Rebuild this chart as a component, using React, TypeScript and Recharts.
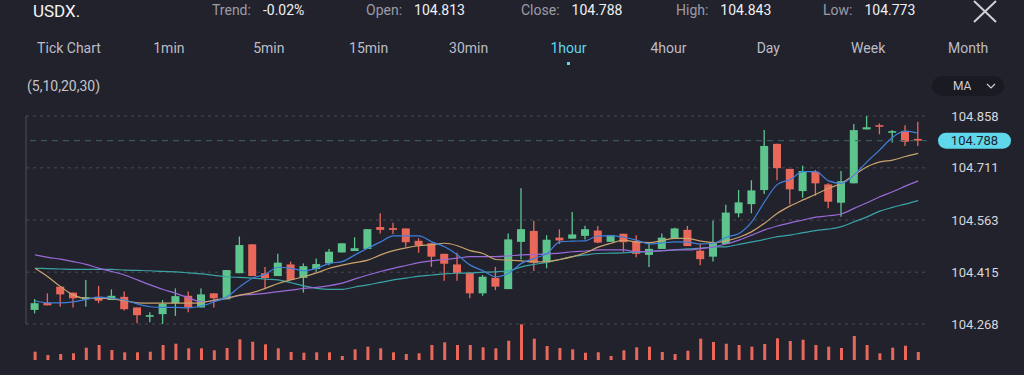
import React from 'react';
import { ComposedChart, Bar, Line, XAxis, YAxis, CartesianGrid, ReferenceLine } from 'recharts';

// hourly candles
const opens = [
  104.308, 104.328, 104.374, 104.357, 104.338, 104.345, 104.336, 104.345, 104.315, 104.291,
  104.296, 104.327, 104.348, 104.315, 104.355, 104.338, 104.412, 104.494, 104.412, 104.404,
  104.437, 104.399, 104.424, 104.440, 104.471, 104.475, 104.481, 104.543, 104.540, 104.539,
  104.504, 104.497, 104.467, 104.437, 104.413, 104.355, 104.399, 104.367, 104.501, 104.532,
  104.443, 104.513, 104.510, 104.518, 104.533, 104.501, 104.524, 104.504, 104.464, 104.481,
  104.509, 104.535, 104.476, 104.459, 104.495, 104.582, 104.608, 104.648, 104.779, 104.708,
  104.645, 104.700, 104.664, 104.612, 104.667, 104.820, 104.832, 104.812, 104.816, 104.793,
];
const highs = [
  104.339, 104.355, 104.374, 104.357, 104.393, 104.376, 104.366, 104.360, 104.315, 104.301,
  104.336, 104.369, 104.360, 104.369, 104.355, 104.421, 104.516, 104.494, 104.430, 104.467,
  104.445, 104.440, 104.454, 104.481, 104.497, 104.514, 104.537, 104.582, 104.555, 104.539,
  104.511, 104.497, 104.467, 104.470, 104.413, 104.407, 104.430, 104.525, 104.653, 104.561,
  104.520, 104.537, 104.586, 104.547, 104.546, 104.520, 104.524, 104.520, 104.497, 104.525,
  104.541, 104.546, 104.495, 104.561, 104.606, 104.648, 104.676, 104.818, 104.779, 104.708,
  104.717, 104.705, 104.667, 104.702, 104.835, 104.858, 104.837, 104.818, 104.832, 104.842,
];
const lows = [
  104.298, 104.321, 104.317, 104.315, 104.317, 104.327, 104.336, 104.306, 104.270, 104.273,
  104.263, 104.291, 104.301, 104.315, 104.315, 104.338, 104.412, 104.404, 104.369, 104.404,
  104.393, 104.357, 104.416, 104.435, 104.471, 104.475, 104.481, 104.525, 104.523, 104.487,
  104.470, 104.430, 104.391, 104.391, 104.341, 104.348, 104.364, 104.367, 104.451, 104.418,
  104.426, 104.495, 104.510, 104.508, 104.497, 104.501, 104.473, 104.457, 104.430, 104.481,
  104.509, 104.489, 104.435, 104.445, 104.495, 104.571, 104.582, 104.637, 104.676, 104.608,
  104.626, 104.632, 104.596, 104.572, 104.667, 104.820, 104.806, 104.783, 104.773, 104.773,
];
const closes = [
  104.327, 104.321, 104.352, 104.341, 104.344, 104.334, 104.348, 104.310, 104.293, 104.293,
  104.325, 104.347, 104.315, 104.352, 104.341, 104.421, 104.492, 104.404, 104.398, 104.442,
  104.393, 104.432, 104.438, 104.473, 104.497, 104.483, 104.537, 104.535, 104.535, 104.500,
  104.490, 104.459, 104.439, 104.413, 104.355, 104.402, 104.374, 104.508, 104.537, 104.442,
  104.507, 104.505, 104.522, 104.537, 104.499, 104.520, 104.500, 104.467, 104.481, 104.513,
  104.539, 104.489, 104.452, 104.499, 104.584, 104.613, 104.647, 104.773, 104.710, 104.650,
  104.702, 104.667, 104.615, 104.673, 104.818, 104.826, 104.829, 104.815, 104.785, 104.788,
];
const volumes = [
  830, 500, 600, 670, 1230, 1500, 1000, 770, 770, 830,
  1500, 1630, 1170, 1170, 970, 1200, 2070, 1830, 1570, 1170,
  800, 730, 770, 770, 400, 1070, 1330, 1170, 770, 600,
  670, 1500, 1770, 1500, 1500, 1270, 1170, 1930, 3570, 2130,
  1400, 1200, 1070, 730, 770, 400, 970, 1270, 1330, 800,
  600, 930, 2130, 1800, 1630, 1500, 1330, 1600, 2170, 1900,
  2030, 1500, 1330, 1200, 2400, 1500, 670, 1230, 1430, 800,
];
// MA(5,10,20,30) as drawn
const ma5 = [
  104.334, 104.328, 104.328, 104.331, 104.338, 104.344, 104.341, 104.336, 104.325, 104.317,
  104.315, 104.315, 104.314, 104.319, 104.331, 104.345, 104.374, 104.398, 104.409, 104.429,
  104.426, 104.419, 104.426, 104.440, 104.445, 104.464, 104.483, 104.501, 104.518, 104.518,
  104.518, 104.501, 104.487, 104.464, 104.435, 104.419, 104.402, 104.412, 104.440, 104.454,
  104.468, 104.501, 104.503, 104.504, 104.518, 104.518, 104.514, 104.506, 104.495, 104.498,
  104.501, 104.500, 104.495, 104.497, 104.514, 104.525, 104.558, 104.615, 104.664, 104.678,
  104.700, 104.700, 104.674, 104.667, 104.691, 104.728, 104.762, 104.798, 104.815, 104.809,
];
const ma10 = [
  104.426, 104.402, 104.374, 104.350, 104.341, 104.341, 104.339, 104.334, 104.328, 104.327,
  104.327, 104.327, 104.327, 104.328, 104.336, 104.341, 104.350, 104.357, 104.369, 104.383,
  104.393, 104.402, 104.413, 104.426, 104.435, 104.442, 104.449, 104.464, 104.476, 104.484,
  104.490, 104.493, 104.497, 104.490, 104.476, 104.468, 104.451, 104.449, 104.447, 104.444,
  104.445, 104.451, 104.459, 104.470, 104.486, 104.497, 104.506, 104.500, 104.499, 104.505,
  104.511, 104.511, 104.503, 104.499, 104.504, 104.514, 104.530, 104.554, 104.582, 104.603,
  104.620, 104.636, 104.653, 104.667, 104.691, 104.714, 104.728, 104.733, 104.743, 104.752,
];
const ma20 = [
  104.464, 104.457, 104.452, 104.445, 104.437, 104.426, 104.417, 104.407, 104.393, 104.379,
  104.366, 104.355, 104.342, 104.331, 104.334, 104.341, 104.349, 104.352, 104.355, 104.360,
  104.364, 104.369, 104.372, 104.377, 104.384, 104.396, 104.407, 104.417, 104.426, 104.434,
  104.442, 104.447, 104.451, 104.455, 104.459, 104.459, 104.459, 104.461, 104.464, 104.465,
  104.467, 104.469, 104.473, 104.475, 104.478, 104.478, 104.478, 104.473, 104.474, 104.476,
  104.478, 104.478, 104.482, 104.487, 104.495, 104.506, 104.520, 104.535, 104.546, 104.555,
  104.563, 104.571, 104.575, 104.580, 104.596, 104.612, 104.629, 104.643, 104.659, 104.674,
];
const ma30 = [
  104.426, 104.425, 104.424, 104.423, 104.423, 104.423, 104.423, 104.421, 104.420, 104.419,
  104.417, 104.416, 104.413, 104.410, 104.406, 104.402, 104.400, 104.398, 104.395, 104.393,
  104.385, 104.376, 104.369, 104.366, 104.366, 104.373, 104.379, 104.386, 104.393, 104.398,
  104.404, 104.407, 104.410, 104.412, 104.413, 104.415, 104.416, 104.419, 104.430, 104.437,
  104.443, 104.451, 104.459, 104.464, 104.468, 104.469, 104.470, 104.472, 104.473, 104.476,
  104.478, 104.481, 104.483, 104.486, 104.487, 104.494, 104.501, 104.508, 104.516, 104.520,
  104.527, 104.533, 104.537, 104.544, 104.558, 104.572, 104.588, 104.599, 104.608, 104.618,
];

const priceTicks = [104.268, 104.415, 104.563, 104.711, 104.858];
const lastPrice = 104.788;
const intervals = ['Tick Chart', '1min', '5min', '15min', '30min', '1hour', '4hour', 'Day', 'Week', 'Month'];
const activeInterval = '1hour';
const stats = [
  { label: 'Trend:', value: '-0.02%', left: 212 },
  { label: 'Open:', value: '104.813', left: 366 },
  { label: 'Close:', value: '104.788', left: 521 },
  { label: 'High:', value: '104.843', left: 676 },
  { label: 'Low:', value: '104.773', left: 823 },
];

const BG = '#22222d';
const GREEN = '#5ec48e';
const RED = '#e9685a';
const CYAN = '#5fd8ec';
const FONT = 'Roboto, "Open Sans", sans-serif';

const data = opens.map((o, i) => ({
  i,
  open: o,
  high: highs[i],
  low: lows[i],
  close: closes[i],
  range: [lows[i], highs[i]],
  vol: volumes[i],
  ma5: ma5[i],
  ma10: ma10[i],
  ma20: ma20[i],
  ma30: ma30[i],
}));

const Candle = (props: any) => {
  const { x, y, width, height, payload } = props;
  const { open, close, high, low } = payload;
  const color = close >= open ? GREEN : RED;
  const px = height / Math.max(high - low, 1e-9);
  const top = y + (high - Math.max(open, close)) * px;
  const h = Math.max(1.6, Math.abs(open - close) * px);
  const cx = x + width / 2;
  return (
    <g>
      <line x1={cx} x2={cx} y1={y} y2={y + Math.max(height, 1)} stroke={color} strokeWidth={1.3} />
      <rect x={x} y={top} width={width} height={h} fill={color} />
    </g>
  );
};

const PriceTick = (props: any) => {
  const { x, y, payload } = props;
  return (
    <text x={x + 48} y={y} textAnchor="middle" dominantBaseline="central" fill="#d6d6dc" fontSize={13} fontFamily={FONT}>
      {Number(payload.value).toFixed(3)}
    </text>
  );
};

const PriceTag = (props: any) => {
  const vb = props.viewBox || {};
  const left = vb.x + vb.width + 11;
  return (
    <g>
      <rect x={left} y={vb.y - 8} width={73} height={16} rx={8} fill={CYAN} />
      <text x={left + 36.5} y={vb.y} textAnchor="middle" dominantBaseline="central" fill="#20202a" fontSize={13} fontFamily={FONT}>
        {lastPrice.toFixed(3)}
      </text>
    </g>
  );
};

const abs = (left: number, top: number, extra: React.CSSProperties = {}): React.CSSProperties => ({
  position: 'absolute', left, top, transform: 'translateY(-50%)', lineHeight: 1, whiteSpace: 'nowrap', ...extra,
});

export default function App() {
  return (
    <div style={{ position: 'fixed', left: 0, top: 0, width: 1024, height: 375, background: BG, overflow: 'hidden', fontFamily: FONT }}>
      {/* header */}
      <div style={abs(33, 11, { color: '#f4f4f6', fontSize: 17 })}>USDX.</div>
      {stats.map((s) => (
        <div key={s.label} style={abs(s.left, 10, { fontSize: 14 })}>
          <span style={{ color: '#9c9ca6' }}>{s.label}</span>
          <span style={{ color: '#f0f0f2', marginLeft: 12 }}>{s.value}</span>
        </div>
      ))}
      <svg style={{ position: 'absolute', left: 972, top: 0 }} width={26} height={24}>
        <line x1={2} y1={1} x2={24} y2={22} stroke="#cfcfd4" strokeWidth={2} />
        <line x1={24} y1={1} x2={2} y2={22} stroke="#cfcfd4" strokeWidth={2} />
      </svg>

      {/* interval tabs */}
      {intervals.map((t, k) => (
        <div
          key={t}
          style={{
            position: 'absolute', left: 69 + k * 99.9, top: 48, transform: 'translate(-50%, -50%)', lineHeight: 1,
            fontSize: 14, whiteSpace: 'nowrap', color: t === activeInterval ? CYAN : '#bdbdc5',
          }}
        >
          {t}
        </div>
      ))}
      <div style={{ position: 'absolute', left: 567, top: 62, width: 3, height: 3, background: CYAN }} />

      <div style={abs(27, 86, { color: '#c4c4cc', fontSize: 14 })}>(5,10,20,30)</div>
      <div style={{ position: 'absolute', left: 932, top: 76, width: 72, height: 20, borderRadius: 10, background: '#1a1a22' }}>
        <span style={{ position: 'absolute', left: 21, top: 10, transform: 'translateY(-50%)', color: '#cfcfd4', fontSize: 12, lineHeight: 1 }}>MA</span>
        <svg style={{ position: 'absolute', left: 54, top: 6 }} width={10} height={8}>
          <polyline points="1,2 5,6 9,2" fill="none" stroke="#cfcfd4" strokeWidth={1.2} />
        </svg>
      </div>

      {/* volume */}
      <div style={{ position: 'absolute', left: 0, top: 0 }}>
        <ComposedChart width={1024} height={375} data={data} margin={{ top: 324, right: 97, left: 26, bottom: 15 }}>
          <XAxis dataKey="i" hide padding={{ left: 2.6, right: 2.4 }} />
          <YAxis hide domain={[0, 3600]} allowDataOverflow />
          <Bar dataKey="vol" barSize={3} fill={RED} isAnimationActive={false} />
        </ComposedChart>
      </div>

      {/* price */}
      <div style={{ position: 'absolute', left: 0, top: 0 }}>
        <ComposedChart width={1024} height={330} data={data} margin={{ top: 116, right: 0, left: 25, bottom: 6 }}>
          <CartesianGrid horizontal vertical={false} stroke="#4a4a54" strokeDasharray="3 4" />
          <XAxis dataKey="i" hide padding={{ left: 2.6, right: 2.4 }} />
          <YAxis
            orientation="right"
            width={97}
            domain={[104.268, 104.858]}
            allowDataOverflow
            ticks={priceTicks}
            interval={0}
            axisLine={false}
            tickLine={false}
            tickSize={0}
            tickMargin={0}
            tick={<PriceTick />}
          />
          <YAxis
            yAxisId="l"
            orientation="left"
            width={1}
            domain={[104.268, 104.858]}
            tick={false}
            tickLine={false}
            axisLine={{ stroke: '#4e4e58' }}
          />
          <ReferenceLine y={lastPrice} stroke="#3d6469" strokeDasharray="6 5" label={<PriceTag />} ifOverflow="visible" />
          <Bar dataKey="range" barSize={8} shape={<Candle />} isAnimationActive={false} />
          <Line dataKey="ma30" type="monotone" stroke="#3aa3a6" strokeWidth={1.2} dot={false} isAnimationActive={false} />
          <Line dataKey="ma20" type="monotone" stroke="#9a6bd8" strokeWidth={1.2} dot={false} isAnimationActive={false} />
          <Line dataKey="ma10" type="monotone" stroke="#c9a36c" strokeWidth={1.2} dot={false} isAnimationActive={false} />
          <Line dataKey="ma5" type="monotone" stroke="#3f7fdc" strokeWidth={1.2} dot={false} isAnimationActive={false} />
        </ComposedChart>
      </div>
    </div>
  );
}
